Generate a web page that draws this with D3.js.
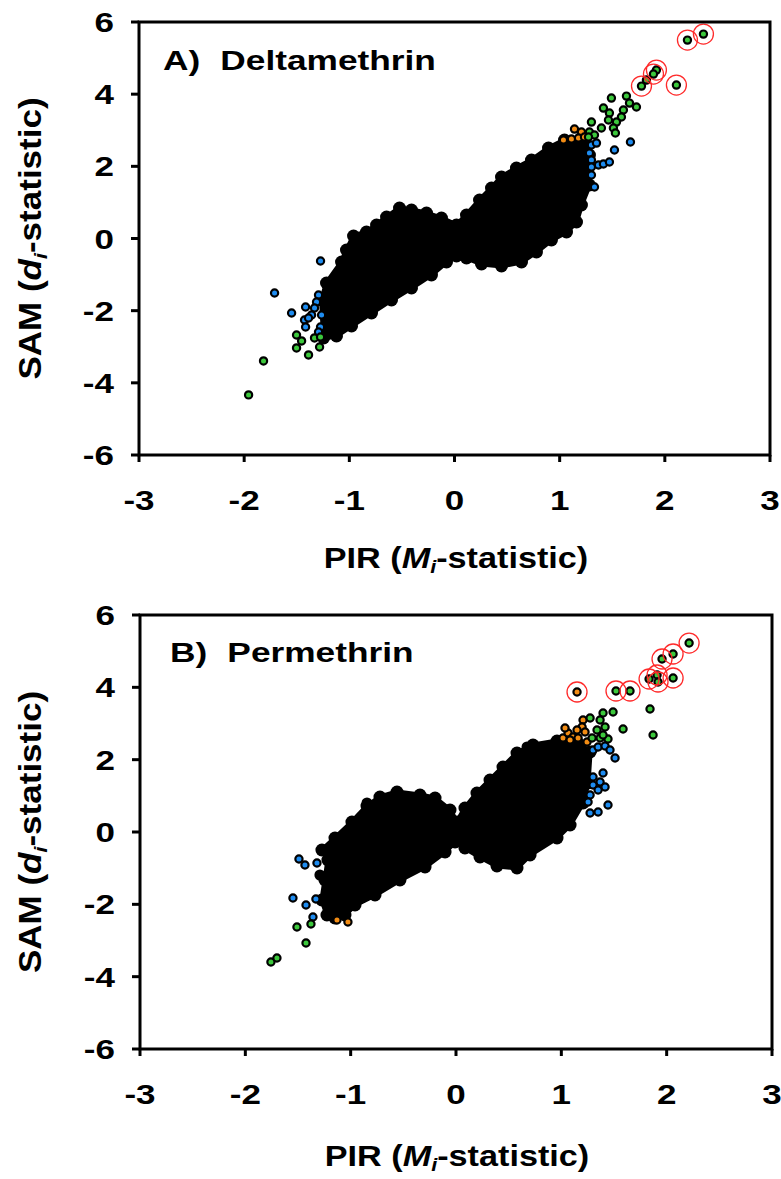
<!DOCTYPE html>
<html><head><meta charset="utf-8">
<script src="https://cdn.jsdelivr.net/npm/d3@7"></script>
<style>
body{margin:0;background:#fff}
text{font-family:"Liberation Sans",Arial,Helvetica,sans-serif;font-weight:bold;fill:#000}
</style>
</head><body>
<svg id="c" width="781" height="1179"></svg>
<script>
// ---------- data ----------
const xTicks = [-3, -2, -1, 0, 1, 2, 3];
const yTicks = [-6, -4, -2, 0, 2, 4, 6];

// Panel A: Deltamethrin — outline of the dense black cloud of non-significant genes
const deltaCloud = [
 [-1.245,-2.756],[-1.264,-1.704],[-1.217,-1.233],[-1.074,-0.651],[-1.027,-0.319],[-0.960,0.069],
 [-0.837,0.180],[-0.741,0.374],[-0.646,0.596],[-0.523,0.845],[-0.409,0.789],[-0.266,0.706],
 [-0.124,0.568],[0.019,0.374],[0.114,0.651],[0.238,1.066],[0.352,1.399],[0.447,1.704],
 [0.589,1.953],[0.732,2.175],[0.894,2.507],[1.046,2.729],[1.236,2.673],[1.283,2.313],
 [1.283,1.482],[1.207,0.928],[1.160,0.457],[1.065,0.180],[0.922,-0.042],[0.779,-0.374],
 [0.637,-0.651],[0.447,-0.762],[0.257,-0.706],[0.114,-0.540],[0.019,-0.485],[-0.076,-0.651],
 [-0.219,-1.011],[-0.409,-1.371],[-0.599,-1.704],[-0.789,-2.064],[-0.979,-2.424],[-1.122,-2.701]
];
const deltaBlack = [];
const deltaBlue = [
 [-1.274,-0.623],[-1.711,-1.510],[-1.549,-2.064],[-1.293,-1.565],[-1.312,-1.759],[-1.331,-1.925],
 [-1.416,-1.898],[-1.359,-2.119],[-1.426,-2.258],[-1.388,-2.202],[-1.264,-2.119],[-1.274,-2.452],
 [-1.416,-2.452],[-1.293,-2.590],
 [1.302,2.590],[1.350,2.645],[1.283,2.368],[1.302,2.175],[1.302,1.981],[1.302,1.759],
 [1.369,2.036],[1.416,2.064],[1.473,2.119],[1.521,2.452],[1.673,2.673],[1.331,1.427]
];
const deltaGreen = [
 [-1.502,-2.673],[-1.454,-2.839],[-1.502,-3.033],[-1.388,-3.227],[-1.331,-2.756],[-1.283,-3.006],
 [-1.274,-2.729],[-1.816,-3.393],[-1.958,-4.335],
 [1.492,3.892],[1.635,3.947],[1.664,3.753],[1.730,3.643],[1.416,3.615],[1.473,3.476],
 [1.464,3.283],[1.606,3.560],[1.587,3.366],[1.540,3.227],[1.302,3.227],[1.397,3.061],
 [1.283,2.950],[1.331,2.867],[1.511,3.061],[1.530,2.923],[1.274,2.812],[1.825,4.391]
];
const deltaOrange = [
 [1.036,2.729],[1.112,2.756],[1.141,3.033],[1.207,2.950],[1.179,2.784],[1.236,2.812]
];
const deltaCircledGreen = [
 [2.215,5.499],[2.367,5.665],[1.920,4.668],[1.892,4.557],[1.778,4.224],[2.110,4.252]
];
const deltaCircledOrange = [];

// Panel B: Permethrin
const permCloud = [
 [-1.225,-2.295],[-1.273,-1.880],[-1.244,-1.327],[-1.216,-0.774],[-1.273,-0.498],[-1.149,-0.166],
 [-0.988,0.276],[-0.845,0.719],[-0.722,0.968],[-0.560,1.106],[-0.342,1.023],[-0.199,0.940],
 [-0.057,0.608],[0.009,0.276],[0.085,0.664],[0.199,1.078],[0.323,1.438],[0.446,1.797],
 [0.579,2.184],[0.731,2.405],[0.959,2.516],[1.149,2.488],[1.273,2.212],[1.254,1.355],
 [1.206,0.802],[1.083,0.194],[0.959,-0.166],[0.703,-0.636],[0.579,-0.995],[0.389,-0.940],
 [0.228,-0.691],[0.085,-0.442],[-0.009,-0.276],[-0.104,-0.553],[-0.294,-0.968],[-0.532,-1.327],
 [-0.769,-1.742],[-0.959,-2.018],[-1.054,-2.295],[-1.149,-2.378]
];
const permBlack = [[-1.292,-1.189],[-0.845,0.802],[0.674,2.35]];
const permBlue = [
 [-1.491,-0.746],[-1.434,-0.912],[-1.320,-0.857],[-1.548,-1.825],[-1.424,-2.018],[-1.330,-1.852],
 [-1.358,-2.350],
 [1.301,2.267],[1.349,2.350],[1.415,2.378],[1.462,2.267],[1.510,2.046],[1.301,1.521],
 [1.396,1.631],[1.368,1.382],[1.301,1.299],[1.415,1.244],[1.349,1.161],[1.273,1.023],
 [1.254,0.829],[1.273,0.525],[1.349,0.553],[1.443,0.746]
];
const permGreen = [
 [-1.510,-2.626],[-1.377,-2.544],[-1.424,-3.069],[-1.757,-3.594],[-1.700,-3.484],
 [1.273,3.152],[1.396,3.290],[1.491,3.318],[1.368,3.097],[1.415,2.903],[1.339,2.820],
 [1.292,2.599],[1.368,2.599],[1.443,2.571],[1.396,2.682],[1.586,2.848],[1.842,3.401],[1.871,2.682]
];
const permOrange = [
 [-1.130,-2.433],[-1.026,-2.488],
 [1.016,2.599],[1.064,2.737],[1.035,2.875],[1.111,2.626],[1.159,2.599],[1.206,3.097],
 [1.197,2.903],[1.225,2.765],[1.149,2.820],[1.083,2.544],[1.244,2.488]
];
const permCircledGreen = [
 [1.519,3.898],[1.652,3.898],[1.833,4.230],[1.909,4.341],[1.918,4.147],[2.061,4.258],
 [1.956,4.783],[2.061,4.921],[2.213,5.225]
];
const permCircledOrange = [[1.149,3.871]];

const panelLabels = ["A)", "B)"];
const panelNames = ["Deltamethrin", "Permethrin"];

// ---------- layout ----------
const COLORS = {blue:"#1E8CF0", green:"#3CC83C", orange:"#F28C14", ring:"#FF2A2A"};
const svg = d3.select("#c");

const panels = [
  {i:0, box:{l:139,r:770,t:22,b:455}, titleX:163, titleY:70, xTitleY:568, xTitleX:456,
   cloud:deltaCloud, black:deltaBlack, blue:deltaBlue, green:deltaGreen, orange:deltaOrange,
   cg:deltaCircledGreen, co:deltaCircledOrange},
  {i:1, box:{l:140,r:772,t:615,b:1049}, titleX:170, titleY:662, xTitleY:1166, xTitleX:457,
   cloud:permCloud, black:permBlack, blue:permBlue, green:permGreen, orange:permOrange,
   cg:permCircledGreen, co:permCircledOrange}
];

panels.forEach(p => {
  const b = p.box;
  const x = d3.scaleLinear().domain([-3,3]).range([b.l,b.r]);
  const y = d3.scaleLinear().domain([-6,6]).range([b.b,b.t]);
  const g = svg.append("g");

  // black cloud (outline polygon + dot at every outline vertex for the scalloped edge)
  const line = d3.line().x(d=>x(d[0])).y(d=>y(d[1])).curve(d3.curveLinearClosed);
  g.append("path").attr("d", line(p.cloud))
    .attr("fill","#000").attr("stroke","#000").attr("stroke-width",5).attr("stroke-linejoin","round");
  g.selectAll(null).data(p.cloud).join("circle")
    .attr("cx",d=>x(d[0])).attr("cy",d=>y(d[1])).attr("r",6.5).attr("fill","#000");
  g.selectAll(null).data(p.black).join("circle")
    .attr("cx",d=>x(d[0])).attr("cy",d=>y(d[1])).attr("r",5.5).attr("fill","#000");

  const pts = (arr, col) => g.selectAll(null).data(arr).join("circle")
    .attr("cx",d=>x(d[0])).attr("cy",d=>y(d[1])).attr("r",3.6)
    .attr("fill",col).attr("stroke","#000").attr("stroke-width",2.2);
  pts(p.orange, COLORS.orange);
  pts(p.blue, COLORS.blue);
  pts(p.green, COLORS.green);
  pts(p.co, COLORS.orange);
  pts(p.cg, COLORS.green);
  g.selectAll(null).data(p.cg.concat(p.co)).join("circle")
    .attr("cx",d=>x(d[0])).attr("cy",d=>y(d[1])).attr("r",10)
    .attr("fill","none").attr("stroke",COLORS.ring).attr("stroke-width",1.3);

  // frame
  g.append("rect").attr("x",b.l).attr("y",b.t).attr("width",b.r-b.l).attr("height",b.b-b.t)
    .attr("fill","none").attr("stroke","#000").attr("stroke-width",3);

  // y axis ticks + labels
  g.selectAll(null).data(yTicks).join("line")
    .attr("x1",b.l-8).attr("x2",b.l).attr("y1",d=>y(d)).attr("y2",d=>y(d))
    .attr("stroke","#000").attr("stroke-width",3);
  g.selectAll(null).data(yTicks).join("text")
    .attr("transform",d=>`translate(${b.l-25},${y(d)+10}) scale(1.25,1)`)
    .attr("text-anchor","end").attr("font-size",28).text(d=>d);

  // x axis ticks + labels
  g.selectAll(null).data(xTicks).join("line")
    .attr("x1",d=>x(d)).attr("x2",d=>x(d)).attr("y1",b.b).attr("y2",b.b+7)
    .attr("stroke","#000").attr("stroke-width",3);
  g.selectAll(null).data(xTicks).join("text")
    .attr("transform",d=>`translate(${x(d)},${b.b+55}) scale(1.25,1)`)
    .attr("text-anchor","middle").attr("font-size",28).text(d=>d);

  // panel title
  const t = g.append("text").attr("transform",`translate(${p.titleX},${p.titleY}) scale(1.26,1)`)
    .attr("font-size",28);
  t.append("tspan").text(panelLabels[p.i]);
  t.append("tspan").attr("dx",16).text(panelNames[p.i]);

  // x axis title
  const xt = g.append("text").attr("transform",`translate(${p.xTitleX},${p.xTitleY}) scale(1.14,1)`)
    .attr("text-anchor","middle").attr("font-size",30);
  xt.append("tspan").text("PIR (");
  xt.append("tspan").attr("font-style","italic").text("M");
  xt.append("tspan").attr("font-style","italic").attr("font-size",19).attr("dy",5).text("i");
  xt.append("tspan").attr("dy",-5).text("-statistic)");

  // y axis title
  const cy = (b.t+b.b)/2;
  const yt = g.append("text").attr("transform",`translate(41,${cy}) rotate(-90) scale(1.13,1)`)
    .attr("text-anchor","middle").attr("font-size",31);
  yt.append("tspan").text("SAM (");
  yt.append("tspan").attr("font-style","italic").text("d");
  yt.append("tspan").attr("font-style","italic").attr("font-size",19).attr("dy",6).text("i");
  yt.append("tspan").attr("dy",-6).text("-statistic)");
});
</script>
</body></html>
